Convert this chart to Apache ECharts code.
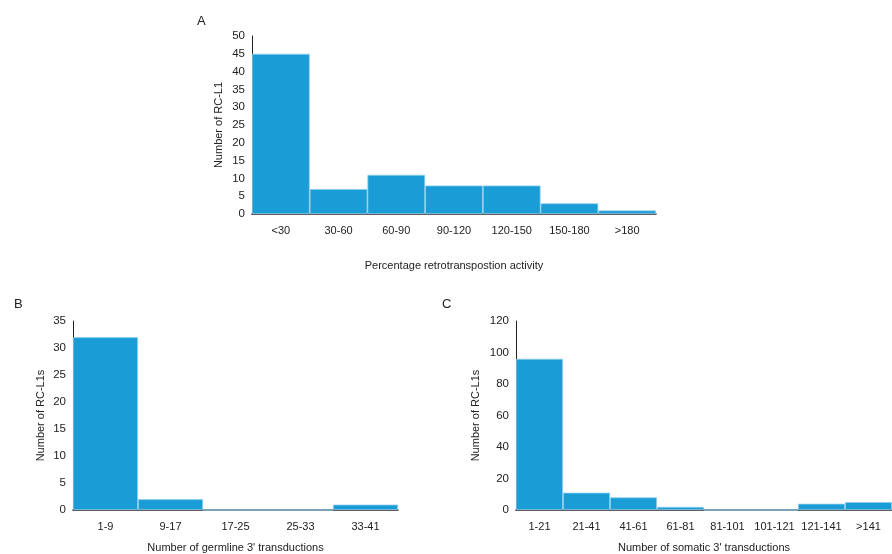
<!DOCTYPE html>
<html style="height: 100%">
<head>
  <meta charset="utf-8">
  <title>RC-L1 histograms</title>
  <style type="text/css">
    body { margin: 0; background: #fff; }
    #container { width: 892px; height: 554px; }
  </style>
</head>
<body>
  <div id="container"></div>
  <script type="text/javascript" src="https://cdn.jsdelivr.net/npm/echarts@6/dist/echarts.min.js"></script>
  <script type="text/javascript">
    // panel A
    var activityBins = ['<30', '30-60', '60-90', '90-120', '120-150', '150-180', '>180'];
    var activityCounts = [45, 7, 11, 8, 8, 3, 1];
    // panel B
    var germlineBins = ['1-9', '9-17', '17-25', '25-33', '33-41'];
    var germlineCounts = [32, 2, 0, 0, 1];
    // panel C
    var somaticBins = ['1-21', '21-41', '41-61', '61-81', '81-101', '101-121', '121-141', '>141'];
    var somaticCounts = [96, 11, 8, 2, 0, 0, 4, 5];

    var FONT = 'Liberation Sans, Arial, sans-serif';
    var BAR = '#1a9dd7';

    var chart = echarts.init(document.getElementById('container'));

    function xAxis(idx, cats, name, gap) {
      return {
        type: 'category', gridIndex: idx, data: cats,
        name: name, nameLocation: 'middle', nameGap: gap,
        nameTextStyle: { color: '#222', fontSize: 11, fontFamily: FONT },
        axisLine: { lineStyle: { color: '#222', width: 1.5 } },
        axisTick: { show: false },
        axisLabel: { color: '#222', fontSize: 11, fontFamily: FONT, margin: 11, interval: 0 }
      };
    }
    function yAxis(idx, max, interval, name, gap) {
      return {
        type: 'value', gridIndex: idx, min: 0, max: max, interval: interval,
        name: name, nameLocation: 'middle', nameGap: gap, nameRotate: 90,
        nameTextStyle: { color: '#222', fontSize: 11, fontFamily: FONT },
        axisLine: { show: true, lineStyle: { color: '#222', width: 1 } },
        axisTick: { show: false },
        splitLine: { show: false },
        axisLabel: { color: '#222', fontSize: 11.5, fontFamily: FONT, margin: 7 }
      };
    }
    function bars(idx, values) {
      return {
        type: 'bar', xAxisIndex: idx, yAxisIndex: idx, data: values,
        barCategoryGap: 0, barGap: 0,
        itemStyle: { color: BAR, borderColor: '#8fcdee', borderWidth: 0.8 },
        silent: true
      };
    }

    chart.setOption({
      animation: false,
      title: [
        { text: 'A', left: 192, top: 10, textStyle: { fontSize: 13, fontWeight: 'normal', color: '#222', fontFamily: FONT } },
        { text: 'B', left: 9, top: 293, textStyle: { fontSize: 13, fontWeight: 'normal', color: '#222', fontFamily: FONT } },
        { text: 'C', left: 437, top: 293, textStyle: { fontSize: 13, fontWeight: 'normal', color: '#222', fontFamily: FONT } }
      ],
      grid: [
        { left: 252, top: 36, width: 404, height: 178 },
        { left: 73, top: 321, width: 325, height: 192 },
        { left: 516, top: 321, width: 384, height: 192 }
      ],
      xAxis: [
        xAxis(0, activityBins, 'Percentage retrotranspostion activity', 46),
        xAxis(1, germlineBins, "Number of germline 3' transductions", 32),
        xAxis(2, somaticBins, "Number of somatic 3' transductions", 32)
      ],
      yAxis: [
        yAxis(0, 50, 5, 'Number of RC-L1', 28),
        yAxis(1, 35, 5, 'Number of RC-L1s', 27),
        yAxis(2, 120, 20, 'Number of RC-L1s', 35)
      ],
      series: [
        bars(0, activityCounts),
        bars(1, germlineCounts),
        bars(2, somaticCounts)
      ]
    });
  </script>
</body>
</html>
